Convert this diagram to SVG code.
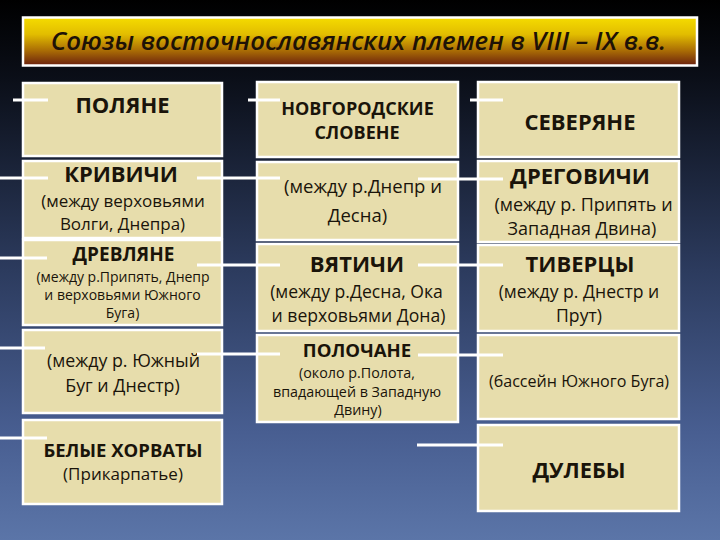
<svg xmlns="http://www.w3.org/2000/svg" width="720" height="540" viewBox="0 0 720 540">
<defs>
<linearGradient id="bg" x1="0" y1="0" x2="0" y2="1">
<stop offset="0" stop-color="#000000"/>
<stop offset="0.15" stop-color="#0b0f19"/>
<stop offset="0.5" stop-color="#2c3b5e"/>
<stop offset="0.8" stop-color="#485e91"/>
<stop offset="1" stop-color="#5b75a8"/>
</linearGradient>
<linearGradient id="tg" x1="0" y1="0" x2="0" y2="1">
<stop offset="0" stop-color="#f5dc00"/>
<stop offset="0.35" stop-color="#e2bd00"/>
<stop offset="0.7" stop-color="#a86a05"/>
<stop offset="1" stop-color="#6a200e"/>
</linearGradient>
<style>
.box{fill:#e7ddac;stroke:#ffffff;stroke-width:2.5}
.b{font-family:"Open Sans","Noto Sans","Liberation Sans",sans-serif;font-weight:700;fill:#1a140a;text-anchor:middle}
.r{font-family:"Open Sans","Noto Sans","Liberation Sans",sans-serif;font-weight:400;fill:#1a140a;text-anchor:middle}
.ln{stroke:#ffffff;stroke-width:3;fill:none}
</style>
</defs>
<rect x="0" y="0" width="720" height="540" fill="url(#bg)"/>
<g id="title">
<rect x="23" y="17.5" width="674" height="48" fill="url(#tg)" stroke="#ffffff" stroke-width="2.5"/>
<text x="358.5" y="50" font-family="'Open Sans','Noto Sans',sans-serif" font-style="italic" font-weight="600" font-size="25.8" fill="#1e1206" text-anchor="middle">Союзы восточнославянских племен в VIII – IX в.в.</text>
</g>
<g id="poliane"><rect class="box" x="23" y="83" width="199" height="73"/><text class="b" x="122.5" y="113" font-size="22">ПОЛЯНЕ</text></g>
<g id="krivichi"><rect class="box" x="23" y="161" width="199" height="77"/><text class="b" x="121" y="182" font-size="22">КРИВИЧИ</text><text class="r" x="123" y="206.5" font-size="17">(между верховьями</text><text class="r" x="122.5" y="230" font-size="17">Волги, Днепра)</text></g>
<g id="drevliane"><rect class="box" x="23" y="240" width="199" height="85"/><text class="b" x="123.5" y="261" font-size="19">ДРЕВЛЯНЕ</text><text class="r" x="123" y="282" font-size="14">(между р.Припять, Днепр</text><text class="r" x="122.5" y="300" font-size="14">и верховьями Южного</text><text class="r" x="122.5" y="318" font-size="14">Буга)</text></g>
<g id="ulichi"><rect class="box" x="23" y="330" width="199" height="83"/><text class="r" x="123.5" y="367" font-size="17.8">(между р. Южный</text><text class="r" x="122.5" y="392" font-size="17.8">Буг и Днестр)</text></g>
<g id="belye-horvaty"><rect class="box" x="23" y="420" width="199" height="84"/><text class="b" x="123" y="457" font-size="18.5">БЕЛЫЕ ХОРВАТЫ</text><text class="r" x="123" y="480" font-size="17">(Прикарпатье)</text></g>
<g id="novgorod"><rect class="box" x="257" y="82" width="201" height="75"/><text class="b" x="357.5" y="114.5" font-size="18">НОВГОРОДСКИЕ</text><text class="b" x="357" y="139" font-size="18">СЛОВЕНЕ</text></g>
<g id="radimichi"><rect class="box" x="257" y="162" width="201" height="78"/><text class="r" x="363" y="193" font-size="18.5">(между р.Днепр и</text><text class="r" x="357.5" y="222" font-size="18.5">Десна)</text></g>
<g id="viatichi"><rect class="box" x="257" y="244" width="201" height="87"/><text class="b" x="357" y="272" font-size="22">ВЯТИЧИ</text><text class="r" x="356.5" y="297.5" font-size="17.6">(между р.Десна, Ока</text><text class="r" x="358.5" y="321.5" font-size="17.6">и верховьями Дона)</text></g>
<g id="polochane"><rect class="box" x="257" y="335" width="201" height="87"/><text class="b" x="357" y="357" font-size="18.6">ПОЛОЧАНЕ</text><text class="r" x="357" y="378" font-size="14.3">(около р.Полота,</text><text class="r" x="357" y="397" font-size="14.3">впадающей в Западную</text><text class="r" x="358" y="415" font-size="14.3">Двину)</text></g>
<g id="severiane"><rect class="box" x="478" y="82" width="201" height="75"/><text class="b" x="580" y="130" font-size="22">СЕВЕРЯНЕ</text></g>
<g id="dregovichi"><rect class="box" x="478" y="161" width="201" height="81"/><text class="b" x="580" y="184" font-size="22">ДРЕГОВИЧИ</text><text class="r" x="583.5" y="210.5" font-size="18">(между р. Припять и</text><text class="r" x="582" y="235" font-size="18">Западная Двина)</text></g>
<g id="tivertsy"><rect class="box" x="478" y="245" width="201" height="86"/><text class="b" x="580" y="272" font-size="22">ТИВЕРЦЫ</text><text class="r" x="579" y="298" font-size="17.6">(между р. Днестр и</text><text class="r" x="579" y="322" font-size="17.6">Прут)</text></g>
<g id="ulichi-2"><rect class="box" x="478" y="335" width="201" height="84"/><text class="r" x="579" y="387" font-size="16.1">(бассейн Южного Буга)</text></g>
<g id="dulebi"><rect class="box" x="478" y="425" width="201" height="86"/><text class="b" x="579" y="478" font-size="21.8">ДУЛЕБЫ</text></g>
<g id="connectors">
<line class="ln" x1="13" y1="100" x2="48" y2="100"/>
<line class="ln" x1="0" y1="178" x2="48" y2="178"/>
<line class="ln" x1="0" y1="258" x2="47" y2="258"/>
<line class="ln" x1="0" y1="348" x2="45" y2="348"/>
<line class="ln" x1="0" y1="438" x2="47" y2="438"/>
<line class="ln" x1="248" y1="100" x2="280" y2="100"/>
<line class="ln" x1="197" y1="178" x2="280" y2="178"/>
<line class="ln" x1="197" y1="265" x2="280" y2="265"/>
<line class="ln" x1="197" y1="354" x2="280" y2="354"/>
<line class="ln" x1="470" y1="100" x2="503" y2="100"/>
<line class="ln" x1="418" y1="179" x2="503" y2="179"/>
<line class="ln" x1="418" y1="265" x2="503" y2="265"/>
<line class="ln" x1="418" y1="355" x2="503" y2="355"/>
<line class="ln" x1="417" y1="445" x2="503" y2="445"/>
</g>
</svg>
